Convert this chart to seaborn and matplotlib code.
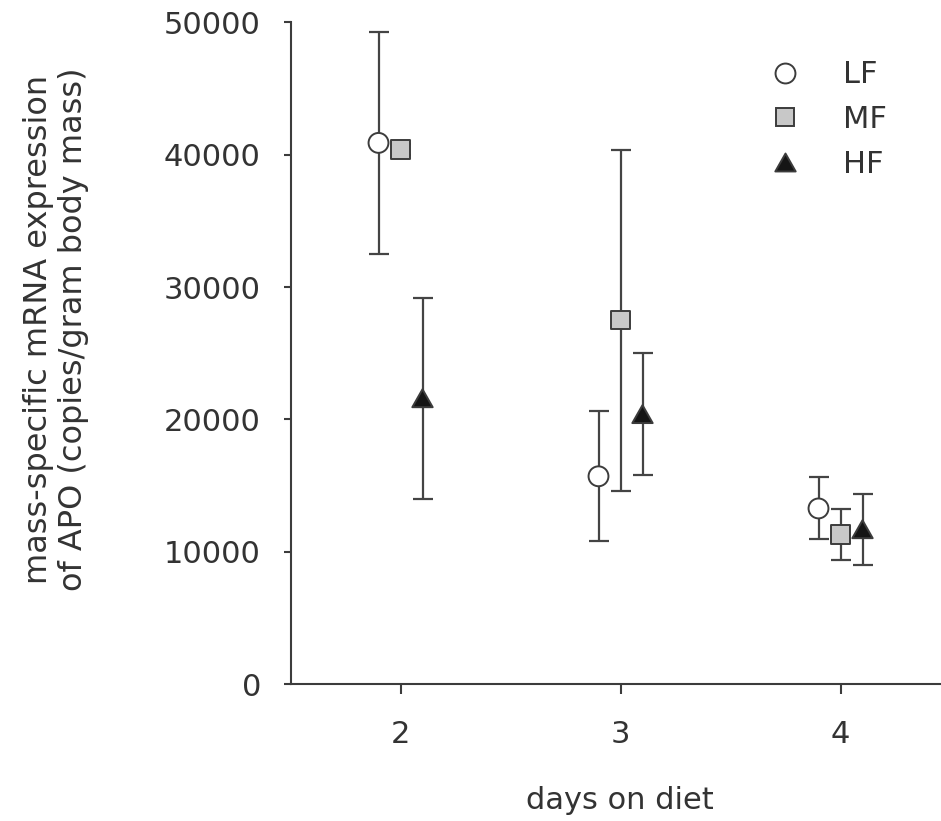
import matplotlib
matplotlib.use("Agg")
import matplotlib.pyplot as plt
from matplotlib.lines import Line2D
from matplotlib.path import Path
import numpy as np
import pandas as pd
import seaborn as sns

# ---- data: mean and SE of mass-specific APO mRNA expression ----
days = [2, 3, 4]
diets = ["LF", "MF", "HF"]
lf_mean = [40900, 15700, 13270]
lf_se = [8400, 4900, 2340]
mf_mean = [40400, 27500, 11300]
mf_se = [400, 12900, 1900]
hf_mean = [21600, 20400, 11700]
hf_se = [7600, 4600, 2680]
y_ticks = [0, 10000, 20000, 30000, 40000, 50000]

# ---- styling ----
dodge = {"LF": -0.1, "MF": 0.0, "HF": 0.1}
fills = {"LF": "#ffffff", "MF": "#c8c8c8", "HF": "#151515"}
tri = Path([(-1, -0.88), (1, -0.88), (0, 0.88), (-1, -0.88)],
           [Path.MOVETO, Path.LINETO, Path.LINETO, Path.CLOSEPOLY])
markers = {"LF": "o", "MF": "s", "HF": tri}
sizes = {"LF": 205, "MF": 175, "HF": 215}
edge = "#3c3c3c"
text_col = "#333333"

means = {"LF": lf_mean, "MF": mf_mean, "HF": hf_mean}
ses = {"LF": lf_se, "MF": mf_se, "HF": hf_se}
rows = []
for d in diets:
    for i, day in enumerate(days):
        rows.append({"diet": d, "day": day, "x": day + dodge[d],
                     "mean": means[d][i], "se": ses[d][i]})
df = pd.DataFrame(rows)

sns.set_theme(style="white")
plt.rcParams["font.family"] = ["DejaVu Sans"]

W, H = 941, 821
fig = plt.figure(figsize=(W / 100, H / 100), dpi=100)
left_px, right_px, top_px, bottom_px = 290.5, 941, 22.5, 684
ax = fig.add_axes([left_px / W, (H - bottom_px) / H,
                   (right_px - left_px) / W, (bottom_px - top_px) / H])

for d in diets:
    sub = df[df["diet"] == d]
    ax.errorbar(sub["x"], sub["mean"], yerr=sub["se"], fmt="none",
                ecolor="#444444", elinewidth=1.6, capsize=7.2,
                capthick=1.6, zorder=2)

sns.scatterplot(data=df, x="x", y="mean", hue="diet", style="diet",
                size="diet", hue_order=diets, style_order=diets,
                size_order=diets, palette=fills, markers=markers,
                sizes=sizes, edgecolor=edge, linewidth=1.4,
                legend=False, ax=ax, zorder=3)

ax.set_xlim(1.5, 1.5 + (right_px - left_px) / 220)
ax.set_ylim(0, 50000)
ax.set_xticks(days)
ax.set_yticks(y_ticks)
ax.set_xticklabels([str(d) for d in days])
ax.set_yticklabels([str(v) for v in y_ticks])
ax.set_xlabel("")
ax.set_ylabel("")

sns.despine(ax=ax)
for s in ("left", "bottom"):
    ax.spines[s].set_color(edge)
    ax.spines[s].set_linewidth(1.5)

ax.tick_params(axis="y", direction="out", length=4.8, width=1.5,
               color=edge, pad=16.5, labelsize=22, labelcolor=text_col,
               left=True)
ax.tick_params(axis="x", direction="out", length=7.2, width=1.5,
               color=edge, pad=19, labelsize=22, labelcolor=text_col,
               bottom=True)

handles = [Line2D([], [], linestyle="none", marker=markers[d],
                  markerfacecolor=fills[d], markeredgecolor=edge,
                  markeredgewidth=1.4, markersize=np.sqrt(sizes[d]))
           for d in diets]
leg = ax.legend(handles, diets, loc="upper left",
                bbox_to_anchor=(0.737, 0.943), frameon=False,
                borderpad=0, borderaxespad=0, handlelength=1.0,
                handletextpad=1.4, labelspacing=0.52, fontsize=22)
for t in leg.get_texts():
    t.set_color(text_col)

fig.text(620 / W, 1 - 800 / H, "days on diet", ha="center", va="center",
         fontsize=22, color=text_col)
fig.text(56 / W, 1 - 329 / H,
         "mass-specific mRNA expression\nof APO (copies/gram body mass)",
         ha="center", va="center", rotation=90, multialignment="center",
         linespacing=1.2, fontsize=23, color=text_col)

fig.savefig("out.png", dpi=100)
